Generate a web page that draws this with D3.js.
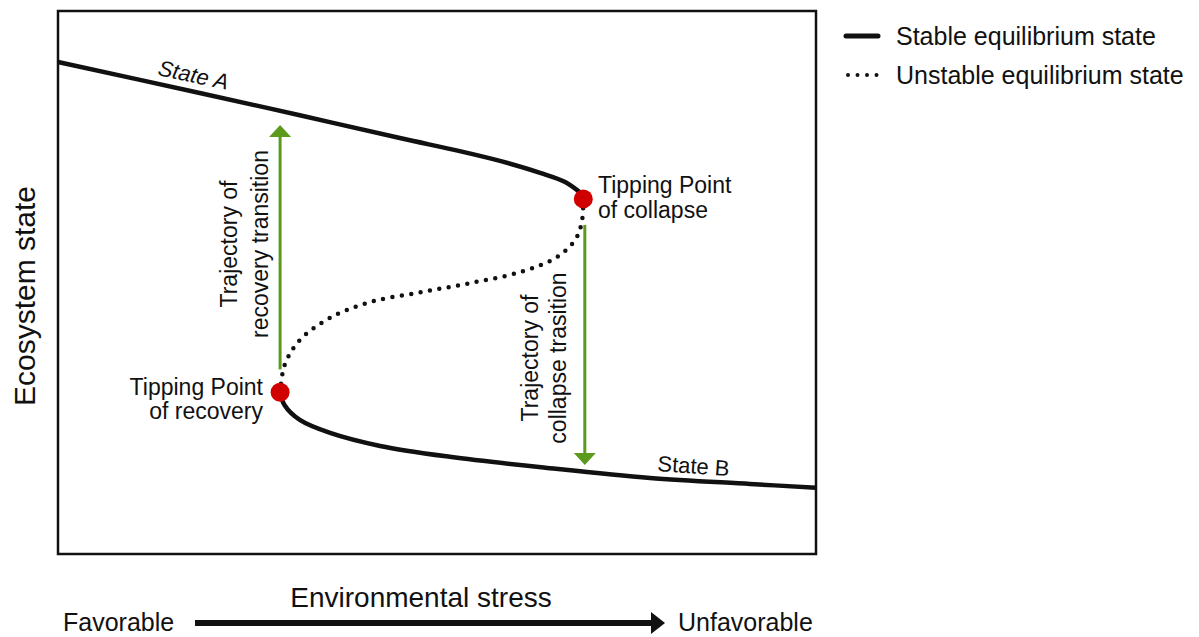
<!DOCTYPE html>
<html>
<head>
<meta charset="utf-8">
<script src="https://cdn.jsdelivr.net/npm/d3@7"></script>
<style>
  body { margin: 0; background: #fff; }
  text { font-family: "Liberation Sans", Arial, sans-serif; fill: #111; }
</style>
</head>
<body>
<div id="chart"></div>
<script>
// curve points (x = stress, y = ecosystem state, 0-100)
var stateA = [[0, 90.6], [18.7, 84.9], [31.9, 80.8], [45.1, 76.6], [53.0, 74.2], [58.3, 72.4], [63.6, 70.2], [66.9, 68.5], [69.3, 66.1]];
var unstable = [[69.3, 65.4], [69.1, 61.1], [68.2, 57.8], [65.6, 54.5], [60.9, 51.9], [54.4, 49.9], [47.8, 48.2], [41.2, 46.4], [35.9, 43.5], [31.9, 39.4], [29.9, 34.8], [29.3, 29.8]];
var stateB = [[29.3, 29.8], [29.9, 27.4], [31.9, 24.7], [35.9, 22.3], [42.5, 19.9], [51.7, 17.9], [64.9, 15.8], [78.1, 14.0], [91.3, 12.9], [100, 12.2]];
var tippingPoints = [[69.3, 65.4], [29.3, 29.8]];
// trajectories: [x, from y, to y]
var trajectories = [[29.3, 34, 79], [69.5, 60.6, 16.4]];
var legendItems = ["Stable equilibrium state", "Unstable equilibrium state"];

var svg_width = 1199, svg_height = 637;
var box = { left: 58, top: 11, right: 816, bottom: 554 };

var svg = d3.select("#chart").append("svg")
  .attr("width", svg_width)
  .attr("height", svg_height);

var x = d3.scaleLinear().domain([0, 100]).range([box.left, box.right]);
var y = d3.scaleLinear().domain([0, 100]).range([box.bottom, box.top]);

var green = "#5b9a1c";

// plot frame
svg.append("rect")
  .attr("x", box.left).attr("y", box.top)
  .attr("width", box.right - box.left)
  .attr("height", box.bottom - box.top)
  .style("fill", "none")
  .style("stroke", "#111")
  .style("stroke-width", 2.5);

var line = d3.line()
  .x(d => x(d[0]))
  .y(d => y(d[1]))
  .curve(d3.curveCatmullRom.alpha(0.5));

// green trajectory arrows (shaft + head)
var traj = svg.append("g").attr("class", "trajectories");
trajectories.forEach(function (t) {
  var x0 = x(t[0]), y0 = y(t[1]), y1 = y(t[2]);
  var dir = y1 < y0 ? 1 : -1; // 1 = pointing up
  traj.append("line")
    .attr("x1", x0).attr("y1", y0)
    .attr("x2", x0).attr("y2", y1 + dir * 8)
    .style("stroke", green)
    .style("stroke-width", 3);
  traj.append("path")
    .attr("d", "M" + x0 + "," + y1 +
      "L" + (x0 + 11) + "," + (y1 + dir * 12) +
      "L" + (x0 - 11) + "," + (y1 + dir * 12) + "Z")
    .style("fill", green);
});

// stable branches
[stateA, stateB].forEach(function (branch) {
  svg.append("path")
    .datum(branch)
    .attr("d", line)
    .style("fill", "none")
    .style("stroke", "#111")
    .style("stroke-width", 4.5);
});

// unstable branch (dotted)
svg.append("path")
  .datum(unstable)
  .attr("d", line)
  .style("fill", "none")
  .style("stroke", "#111")
  .style("stroke-width", 4.5)
  .style("stroke-linecap", "round")
  .style("stroke-dasharray", "0 9.5");

// tipping points
svg.append("g")
  .selectAll("circle")
  .data(tippingPoints)
  .enter()
  .append("circle")
  .attr("cx", d => x(d[0]))
  .attr("cy", d => y(d[1]))
  .attr("r", 9.5)
  .style("fill", "#d00000");

// labels inside the plot
svg.append("text")
  .attr("transform", "translate(157,75) rotate(12)")
  .style("font-size", "22px")
  .style("font-style", "italic")
  .text("State A");

svg.append("text")
  .attr("transform", "translate(657,471) rotate(4)")
  .style("font-size", "22px")
  .text("State B");

function twoLines(xp, yp, lines, anchor, size, gap) {
  var t = svg.append("text")
    .attr("x", xp).attr("y", yp)
    .style("font-size", size + "px")
    .style("text-anchor", anchor);
  lines.forEach(function (s, i) {
    t.append("tspan").attr("x", xp).attr("dy", i ? gap : 0).text(s);
  });
}

twoLines(598, 193, ["Tipping Point", "of collapse"], "start", 23, 25);
twoLines(263, 395, ["Tipping Point", "of recovery"], "end", 23, 24);

function rotatedLabel(cx, cy, txt) {
  svg.append("text")
    .attr("transform", "translate(" + cx + "," + cy + ") rotate(-90)")
    .attr("dy", "0.35em")
    .style("font-size", "23px")
    .style("text-anchor", "middle")
    .text(txt);
}
rotatedLabel(229, 244, "Trajectory of");
rotatedLabel(260, 244, "recovery transition");
rotatedLabel(530, 358, "Trajectory of");
rotatedLabel(558, 358, "collapse trasition");

// axis titles
svg.append("text")
  .attr("transform", "translate(24,296) rotate(-90)")
  .attr("dy", "0.35em")
  .style("font-size", "30px")
  .style("text-anchor", "middle")
  .text("Ecosystem state");

svg.append("text")
  .attr("x", 421).attr("y", 607)
  .style("font-size", "28px")
  .style("text-anchor", "middle")
  .text("Environmental stress");

svg.append("text")
  .attr("x", 63).attr("y", 631)
  .style("font-size", "25px")
  .text("Favorable");

svg.append("text")
  .attr("x", 678).attr("y", 631)
  .style("font-size", "25px")
  .text("Unfavorable");

// stress arrow
svg.append("line")
  .attr("x1", 195).attr("y1", 623)
  .attr("x2", 652).attr("y2", 623)
  .style("stroke", "#111")
  .style("stroke-width", 6);
svg.append("path")
  .attr("d", "M665,623L651,612L651,634Z")
  .style("fill", "#111");

// legend
var legend = svg.append("g").attr("class", "legend");
legendItems.forEach(function (s, i) {
  var ly = 36 + i * 39;
  legend.append("line")
    .attr("x1", i ? 848 : 846).attr("y1", ly)
    .attr("x2", 878).attr("y2", ly)
    .style("stroke", "#111")
    .style("stroke-width", i ? 4 : 5)
    .style("stroke-linecap", "round")
    .style("stroke-dasharray", i ? "0 9.5" : null);
  legend.append("text")
    .attr("x", 896).attr("y", ly)
    .attr("dy", "0.35em")
    .style("font-size", "25px")
    .text(s);
});
</script>
</body>
</html>
